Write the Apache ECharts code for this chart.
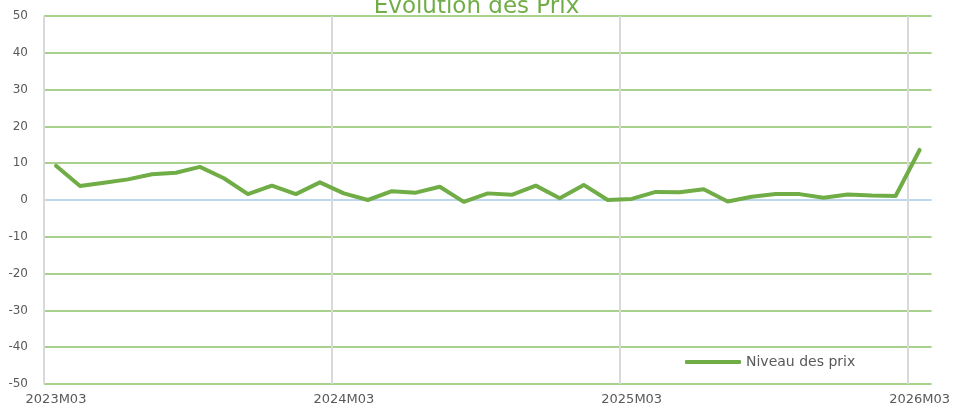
<!DOCTYPE html>
<html lang="fr">
<head>
    <meta charset="UTF-8">
    <title>Evolution des Prix</title>
</head>
<style>
    body{
        margin: 0;
        padding: 0;
        background-color: #fff;
    }
    .main{
        width: 953px;
        height: 413px;
    }
</style>
<body>
    <div class="main"></div>
</body>
<script src="https://cdn.jsdelivr.net/npm/echarts/dist/echarts.min.js"></script>
<script>
  // mois de 2023M03 à 2026M03
  var mois = [
    '2023M03','2023M04','2023M05','2023M06','2023M07','2023M08','2023M09','2023M10','2023M11','2023M12',
    '2024M01','2024M02','2024M03','2024M04','2024M05','2024M06','2024M07','2024M08','2024M09','2024M10',
    '2024M11','2024M12','2025M01','2025M02','2025M03','2025M04','2025M05','2025M06','2025M07','2025M08',
    '2025M09','2025M10','2025M11','2025M12','2026M01','2026M02','2026M03'
  ];
  var niveauPrix = [
    9.3, 3.8, 4.7, 5.6, 7.0, 7.4, 9.0, 5.9, 1.6, 3.9,
    1.6, 4.8, 1.8, 0.0, 2.4, 2.0, 3.6, -0.5, 1.8, 1.4,
    3.9, 0.5, 4.1, 0.0, 0.3, 2.2, 2.1, 2.9, -0.4, 0.9,
    1.6, 1.6, 0.6, 1.5, 1.2, 1.1, 13.6
  ];
  var yTicks = [-50, -40, -30, -20, -10, 0, 10, 20, 30, 40, 50];

  var myChart = echarts.init(document.querySelector('.main'));

  // couleurs des lignes horizontales : la ligne du zéro en bleu
  var gridColors = yTicks.map(function (v) { return v === 0 ? '#BDD7EE' : '#A9D18E'; });
  // lignes verticales : 4 années + bord droit (invisible)
  var vColors = ['#D9D9D9', '#D9D9D9', '#D9D9D9', '#D9D9D9', 'rgba(0,0,0,0)'];

  var option = {
    animation: false,
    title: {
      text: 'Evolution des Prix',
      left: 'center',
      top: -9,
      textStyle: {
        color: '#70AD47',
        fontSize: 23,
        fontWeight: 'normal',
        fontFamily: 'DejaVu Sans'
      }
    },
    legend: {
      data: ['Niveau des prix'],
      left: 680,
      top: 350,
      itemWidth: 56,
      itemHeight: 4,
      icon: 'roundRect',
      itemGap: 4,
      textStyle: {
        color: '#595959',
        fontSize: 14,
        fontFamily: 'DejaVu Sans'
      }
    },
    grid: {
      left: 44,
      right: 21,
      top: 16,
      bottom: 29
    },
    xAxis: {
      type: 'category',
      data: mois,
      boundaryGap: true,
      axisLine: { show: false },
      axisTick: { show: false },
      axisLabel: {
        interval: 11,
        color: '#595959',
        fontSize: 13,
        margin: 9,
        fontFamily: 'DejaVu Sans'
      },
      splitLine: {
        show: true,
        interval: 11,
        lineStyle: { color: vColors, width: 2 }
      }
    },
    yAxis: {
      type: 'value',
      min: -50,
      max: 50,
      interval: 10,
      axisLine: { show: false },
      axisTick: { show: false },
      axisLabel: {
        color: '#595959',
        fontSize: 12,
        margin: 16,
        fontFamily: 'DejaVu Sans'
      },
      splitLine: {
        show: true,
        lineStyle: { color: gridColors, width: 2 }
      }
    },
    series: [
      {
        name: 'Niveau des prix',
        type: 'line',
        data: niveauPrix,
        symbol: 'none',
        color: '#70AD47',
        lineStyle: { width: 4, color: '#70AD47', cap: 'round', join: 'round' }
      }
    ]
  };
  myChart.setOption(option);
</script>
</html>
